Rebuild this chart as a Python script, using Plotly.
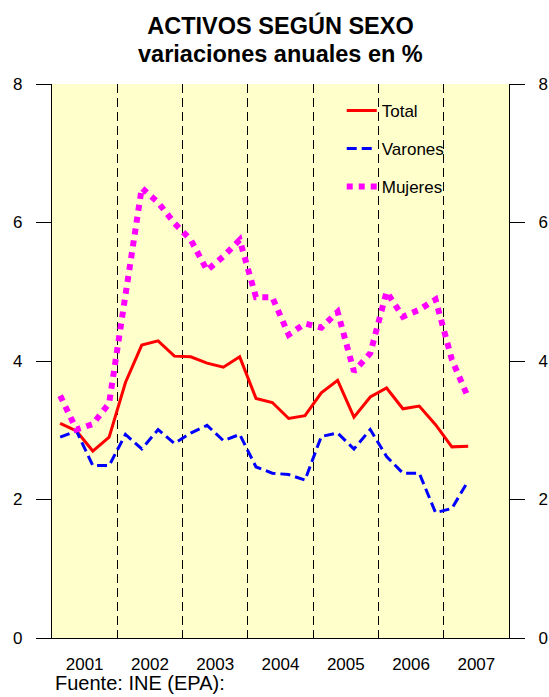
import plotly.graph_objects as go

# ---- data ----
anios = [2001, 2002, 2003, 2004, 2005, 2006, 2007]
trimestres = [(a, q) for a in anios for q in (1, 2, 3, 4)][:26]  # 2001T1 .. 2007T2

total = [3.10, 2.99, 2.70, 2.90, 3.69, 4.23, 4.29, 4.07, 4.06, 3.97, 3.91, 4.06, 3.46,
         3.40, 3.17, 3.21, 3.54, 3.72, 3.19, 3.48, 3.61, 3.31, 3.35, 3.08, 2.76, 2.77]
varones = [2.90, 2.99, 2.49, 2.49, 2.94, 2.73, 3.01, 2.81, 2.96, 3.07, 2.85, 2.94, 2.47,
           2.38, 2.36, 2.28, 2.91, 2.96, 2.73, 3.01, 2.62, 2.38, 2.38, 1.81, 1.87, 2.27]
mujeres = [3.50, 3.01, 3.09, 3.39, 4.95, 6.50, 6.29, 5.99, 5.75, 5.31, 5.51, 5.75, 4.92,
           4.92, 4.38, 4.54, 4.48, 4.71, 3.85, 4.11, 5.00, 4.64, 4.74, 4.89, 4.02, 3.47]

y_ticks = [0, 2, 4, 6, 8]
year_labels = [str(a) for a in anios]

x = [a + (q - 0.5) / 4 for a, q in trimestres]

FONT = "Liberation Sans, Arial, sans-serif"

fig = go.Figure()
fig.add_trace(go.Scatter(x=x, y=total, name="Total", mode="lines",
                         line=dict(color="#FF0000", width=3), legendgroup="a"))
fig.add_trace(go.Scatter(x=x, y=varones, name="Varones", mode="lines",
                         line=dict(color="#0000FF", width=3, dash="10px,5px"), legendgroup="b"))
fig.add_trace(go.Scatter(x=x, y=mujeres, name="Mujeres", mode="lines",
                         line=dict(color="#FF00FF", width=6, dash="6px,6px"), legendgroup="c"))
# invisible trace to carry the right-hand axis
fig.add_trace(go.Scatter(x=x, y=total, yaxis="y2", mode="lines", showlegend=False,
                         hoverinfo="skip", line=dict(color="rgba(0,0,0,0)", width=0)))

axis_y = dict(range=[0, 8], tickvals=y_ticks, ticks="outside", ticklen=15, tickwidth=1.3,
              tickcolor="black", showline=True, linecolor="black", linewidth=1.3,
              showgrid=False, zeroline=False, tickfont=dict(family=FONT, size=17, color="black"),
              ticklabelstandoff=10)

fig.update_layout(
    width=549, height=697,
    margin=dict(l=52, r=40, t=84, b=59, autoexpand=False),
    paper_bgcolor="white",
    plot_bgcolor="#FFFFCC",
    title=dict(text="<b>ACTIVOS SEGÚN SEXO</b>",
               x=0.5, xref="paper", xanchor="center",
               y=1 - 26 / 697, yref="container", yanchor="middle",
               font=dict(family=FONT, size=23.5, color="black")),
    xaxis=dict(range=[2001, 2008], tickvals=[a + 0.5 for a in anios], ticktext=year_labels,
               ticks="", showgrid=False, zeroline=False, showline=True, linecolor="black",
               linewidth=1.3, tickfont=dict(family=FONT, size=17, color="black"),
               ticklabelstandoff=10,
               minor=dict(tickvals=anios[1:], showgrid=True, gridcolor="black",
                          gridwidth=1, griddash="9px,5px", ticks="")),
    yaxis=axis_y,
    yaxis2=dict(axis_y, overlaying="y", side="right"),
    legend=dict(x=0.634, y=0.984, xanchor="left", yanchor="top",
                bgcolor="rgba(0,0,0,0)", borderwidth=0, tracegroupgap=13,
                font=dict(family=FONT, size=17, color="black")),
    showlegend=True,
    annotations=[
        dict(text="<b>variaciones anuales en %</b>", x=0.5, xref="paper",
             y=(638 - 54) / 554, yref="paper", xanchor="center", yanchor="middle",
             showarrow=False, font=dict(family=FONT, size=23.5, color="black")),
        dict(text="Fuente: INE (EPA):", x=(53 - 52) / 457, xref="paper",
             y=(638 - 683) / 554, yref="paper", xanchor="left", yanchor="middle",
             showarrow=False, font=dict(family=FONT, size=20, color="black")),
    ],
)

fig.write_html("out.html", config={"displayModeBar": False},
               post_script="document.body.style.margin='0';document.body.style.overflow='hidden';")
